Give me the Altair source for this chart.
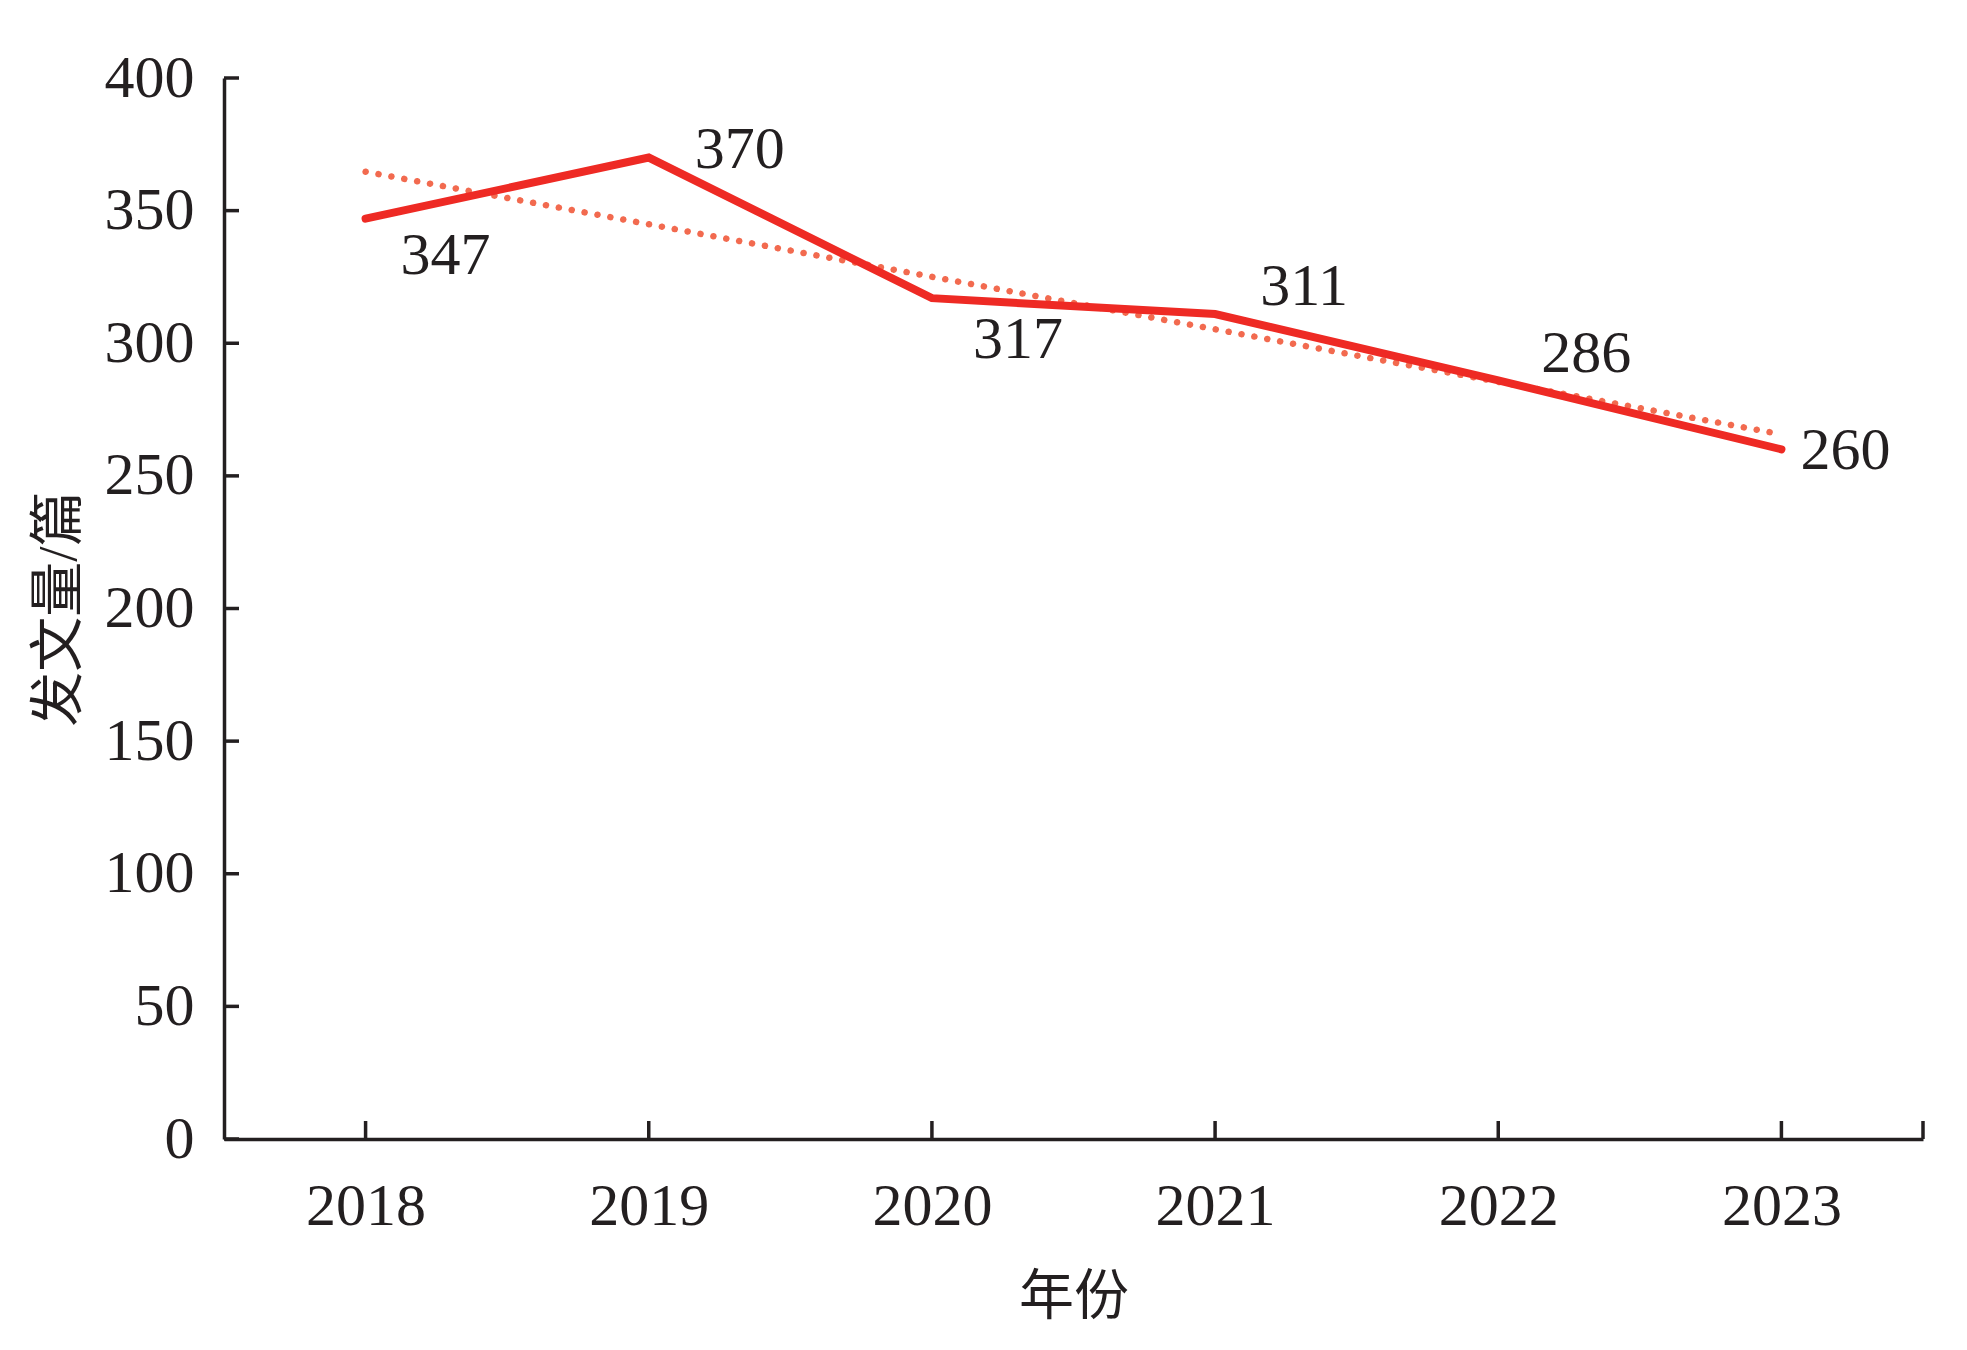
import altair as alt
import pandas as pd

years = [2018, 2019, 2020, 2021, 2022, 2023]
counts = [347, 370, 317, 311, 286, 260]
y_tick_values = [0, 50, 100, 150, 200, 250, 300, 350, 400]

x_title = "年份"
y_title = "发文量/篇"

df = pd.DataFrame({"year": years, "count": counts})
ticks_df = pd.DataFrame({"v": y_tick_values})
one = pd.DataFrame({"a": [0]})

W, H = 1699, 1061
FONT = "'Liberation Serif', 'Times New Roman', 'Noto Sans CJK SC', serif"
INK = "#231F20"
RED = "#EE2A24"
TREND = "#F26A4F"
FS = 60

x_enc = alt.X(
    "year:O",
    scale=alt.Scale(type="point", padding=0.5),
    axis=alt.Axis(
        labelAngle=0, ticks=False, labelPadding=38, labelFont=FONT, labelFontSize=FS,
        labelColor=INK, domainColor=INK, domainWidth=3.5, grid=False,
        title=x_title, titleFont=FONT, titleFontSize=55, titleFontWeight="normal",
        titleColor=INK, titleX=W / 2, titleY=157, titleBaseline="middle", titleAlign="center",
    ),
)
y_enc = alt.Y(
    "count:Q",
    scale=alt.Scale(domain=[0, 400], nice=False),
    axis=alt.Axis(
        values=y_tick_values, ticks=False, labelPadding=30, labelFont=FONT, labelFontSize=FS,
        labelColor=INK, domainColor=INK, domainWidth=3.5, grid=False,
        title=y_title, titleFont=FONT, titleFontSize=55, titleFontWeight="normal",
        titleColor=INK, titleX=-166, titleY=H / 2, titleAngle=270,
        titleBaseline="middle", titleAlign="center",
    ),
)

trend = alt.Chart(df).transform_regression("year", "count").mark_line(
    color=TREND, strokeWidth=6.5, strokeDash=[0.1, 13], strokeCap="round"
).encode(x=x_enc, y=y_enc)

line = alt.Chart(df).mark_line(color=RED, strokeWidth=8, strokeCap="round").encode(
    x=x_enc, y=y_enc
)

ytick_rules = alt.Chart(ticks_df).mark_rule(color=INK, strokeWidth=3.5).encode(
    y=alt.Y("v:Q", scale=alt.Scale(domain=[0, 400], nice=False)),
    x=alt.value(0), x2=alt.value(15),
)
xtick_rules = alt.Chart(df).mark_rule(color=INK, strokeWidth=3.5).encode(
    x=alt.X("year:O", scale=alt.Scale(type="point", padding=0.5)),
    y=alt.value(H), y2=alt.value(H - 18),
)
end_tick = alt.Chart(one).mark_rule(color=INK, strokeWidth=3.5).encode(
    x=alt.value(W), y=alt.value(H), y2=alt.value(H - 18),
)

offsets = {2018: (80, 37), 2019: (91, -8), 2020: (86, 42), 2021: (89, -27), 2022: (88, -26), 2023: (64, 2)}
labels = []
for yr, (dx, dy) in offsets.items():
    labels.append(
        alt.Chart(df).transform_filter(alt.datum.year == yr).mark_text(
            font=FONT, fontSize=FS, color=INK, dx=dx, dy=dy, align="center", baseline="middle"
        ).encode(
            x=alt.X("year:O", scale=alt.Scale(type="point", padding=0.5)),
            y=alt.Y("count:Q", scale=alt.Scale(domain=[0, 400], nice=False)),
            text=alt.Text("count:Q"),
        )
    )

chart = alt.layer(trend, line, ytick_rules, xtick_rules, end_tick, *labels).properties(
    width=W, height=H,
    autosize=alt.AutoSizeParams(type="none"),
    padding={"left": 216, "top": 70, "right": 36, "bottom": 203},
    background="white",
).configure_view(stroke=None)

chart.save("out.html", embed_options={"renderer": "svg", "actions": False})
